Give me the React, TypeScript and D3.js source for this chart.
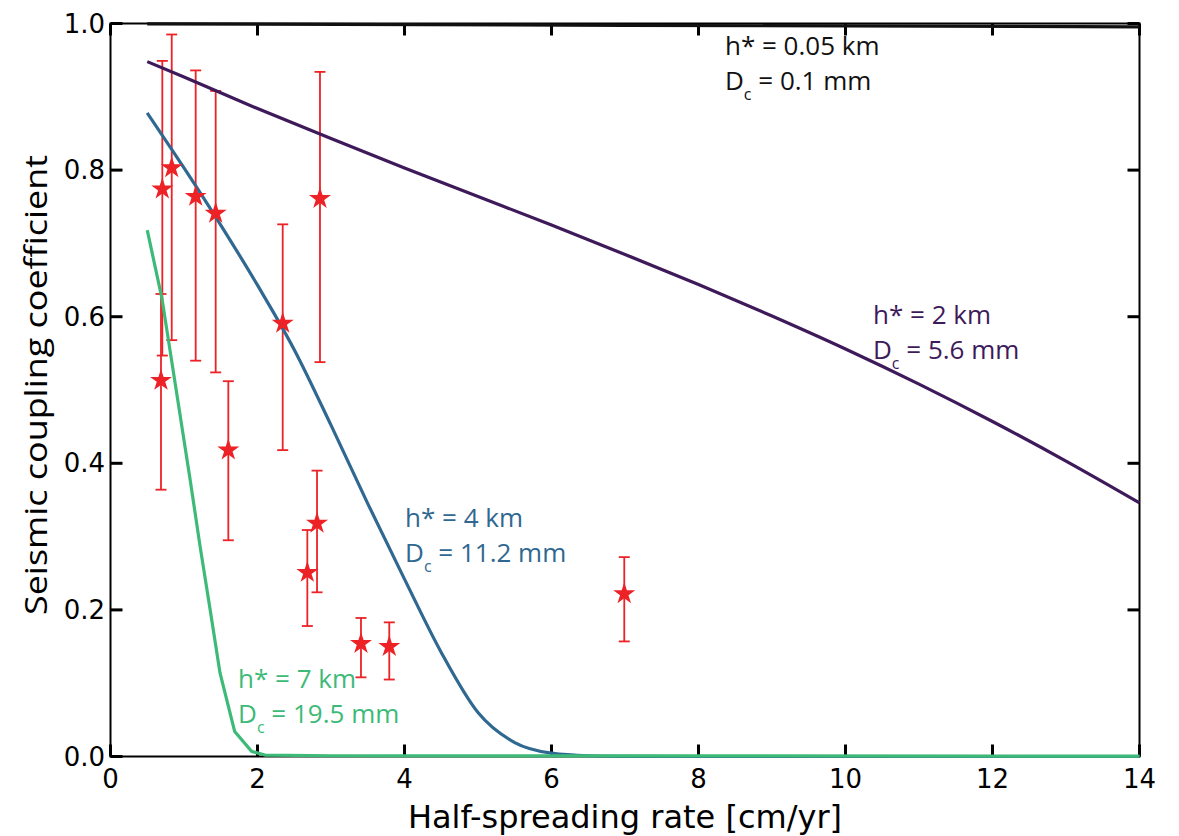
import React from "react";
import * as d3 from "d3";

// Observed ridge segments: half-spreading rate (cm/yr) and seismic coupling with error range
const obsRate = [0.705, 0.687, 0.833, 1.159, 1.431, 1.603, 2.343, 2.85, 2.678, 2.81, 3.408, 3.793, 6.99];
const obsCoupling = [0.774, 0.513, 0.803, 0.764, 0.741, 0.418, 0.591, 0.761, 0.251, 0.318, 0.154, 0.15, 0.222];
const obsLow = [0.547, 0.364, 0.568, 0.54, 0.524, 0.295, 0.418, 0.538, 0.178, 0.224, 0.108, 0.105, 0.157];
const obsHigh = [0.949, 0.631, 0.985, 0.936, 0.908, 0.512, 0.726, 0.934, 0.309, 0.39, 0.189, 0.183, 0.272];

// Model curves for each nucleation size h* / critical slip distance Dc
const rateA = [0.5, 7, 14];
const couplingA = [0.9995, 0.9975, 0.9955];

const rateB = [0.5, 1, 2, 3, 4, 5, 6, 7, 8, 9, 10, 11, 12, 13, 14];
const couplingB = [0.948, 0.927, 0.884, 0.843, 0.803, 0.764, 0.725, 0.685, 0.644, 0.601, 0.556, 0.508, 0.457, 0.403, 0.346];

const rateC = [0.5, 1, 1.5, 2, 2.5, 3, 3.5, 4, 4.5, 5, 5.5, 6, 6.5, 7, 8, 10, 12, 14];
const couplingC = [0.878, 0.803, 0.725, 0.643, 0.555, 0.452, 0.345, 0.242, 0.142, 0.06, 0.019, 0.0045, 0.001, 0.0003, 0, 0, 0, 0];

const rateD = [0.5, 0.7, 1.08, 1.22, 1.35, 1.49, 1.69, 1.92, 2.1, 3, 14];
const couplingD = [0.718, 0.625, 0.38, 0.286, 0.204, 0.114, 0.034, 0.007, 0.002, 0.001, 0.0005];

const modelHStar = ["0.05", "2", "4", "7"];
const modelDc = ["0.1", "5.6", "11.2", "19.5"];

const xTicks = [0, 2, 4, 6, 8, 10, 12, 14];
const yTicks = [0, 0.2, 0.4, 0.6, 0.8, 1.0];

const W = 1179;
const H = 836;
const margin = { left: 110.5, right: 39.5, top: 23.5, bottom: 79.5 };

export default function App() {
  const x = d3.scaleLinear().domain([0, 14]).range([margin.left, W - margin.right]);
  const y = d3.scaleLinear().domain([0, 1]).range([H - margin.bottom, margin.top]);

  const models = [
    { rate: rateA, c: couplingA, color: "#111111", curve: d3.curveMonotoneX, label: [8.36, 0.957] },
    { rate: rateB, c: couplingB, color: "#3e1a5a", curve: d3.curveMonotoneX, label: [10.374, 0.59] },
    { rate: rateC, c: couplingC, color: "#2f6891", curve: d3.curveMonotoneX, label: [4.007, 0.313] },
    { rate: rateD, c: couplingD, color: "#3dba78", curve: d3.curveLinear, label: [1.735, 0.0935] },
  ];

  const lineGen = (curve: d3.CurveFactory) =>
    d3
      .line<[number, number]>()
      .x((d) => x(d[0]))
      .y((d) => y(d[1]))
      .curve(curve);

  const star = d3.symbol(d3.symbolStar, 150)() as string;
  const red = "#ec2227";
  const x0 = x(0);
  const x1 = x(14);
  const y0 = y(0);
  const y1 = y(1);
  const tickLen = 12;

  return (
    <svg
      width={W}
      height={H}
      style={{ position: "absolute", left: 0, top: 0, background: "#fff" }}
    >
      {/* error bars */}
      <g stroke={red} strokeWidth={1.8} fill="none">
        {obsRate.map((r, i) => (
          <g key={i}>
            <line x1={x(r)} x2={x(r)} y1={y(obsLow[i])} y2={y(obsHigh[i])} />
            <line x1={x(r) - 5.5} x2={x(r) + 5.5} y1={y(obsLow[i])} y2={y(obsLow[i])} />
            <line x1={x(r) - 5.5} x2={x(r) + 5.5} y1={y(obsHigh[i])} y2={y(obsHigh[i])} />
          </g>
        ))}
      </g>

      {/* frame */}
      <g stroke="#000" fill="none">
        <rect x={x0} y={y1} width={x1 - x0} height={y0 - y1} strokeWidth={2} />
        {xTicks.map((t) => (
          <g key={"xt" + t} strokeWidth={3}>
            <line x1={x(t)} x2={x(t)} y1={y0} y2={y0 - tickLen} />
            <line x1={x(t)} x2={x(t)} y1={y1} y2={y1 + tickLen} />
          </g>
        ))}
        {yTicks.map((t) => (
          <g key={"yt" + t} strokeWidth={3}>
            <line x1={x0} x2={x0 + tickLen} y1={y(t)} y2={y(t)} />
            <line x1={x1} x2={x1 - tickLen} y1={y(t)} y2={y(t)} />
          </g>
        ))}
      </g>

      {/* model curves */}
      {models.map((m, i) => (
        <path
          key={"m" + i}
          d={lineGen(m.curve)(m.rate.map((r, j) => [r, m.c[j]] as [number, number])) as string}
          fill="none"
          stroke={m.color}
          strokeWidth={3.2}
          strokeLinejoin="round"
        />
      ))}

      {/* stars */}
      {obsRate.map((r, i) => (
        <path key={"s" + i} d={star} transform={`translate(${x(r)},${y(obsCoupling[i])})`} fill={red} />
      ))}

      {/* curve labels */}
      {models.map((m, i) => (
        <g
          key={"l" + i}
          fill={m.color}
          fontFamily="'Open Sans', sans-serif"
          fontSize={26}
          transform={`translate(${x(m.label[0])},${y(m.label[1])})`}
        >
          <text x={0} y={0}>{`h* = ${modelHStar[i]} km`}</text>
          <text x={0} y={35}>
            D
            <tspan fontSize={16} dy={10}>c</tspan>
            <tspan dy={-10}>{` = ${modelDc[i]} mm`}</tspan>
          </text>
        </g>
      ))}

      {/* tick labels */}
      <g fontFamily="'DejaVu Sans', sans-serif" fontSize={26} fill="#000">
        {xTicks.map((t) => (
          <text key={"xl" + t} x={x(t)} y={788} textAnchor="middle">
            {t}
          </text>
        ))}
        {yTicks.map((t) => (
          <text key={"yl" + t} x={105} y={y(t)} textAnchor="end" dominantBaseline="central">
            {t.toFixed(1)}
          </text>
        ))}
      </g>

      {/* axis titles */}
      <text
        x={(x0 + x1) / 2}
        y={828}
        textAnchor="middle"
        fontFamily="'DejaVu Sans', sans-serif"
        fontSize={32}
        fill="#000"
      >
        Half-spreading rate [cm/yr]
      </text>
      <text
        transform={`translate(47,385) rotate(-90)`}
        textAnchor="middle"
        fontFamily="'Open Sans', sans-serif"
        fontSize={31}
        textLength={460}
        lengthAdjust="spacingAndGlyphs"
        fill="#000"
      >
        Seismic coupling coefficient
      </text>
    </svg>
  );
}
